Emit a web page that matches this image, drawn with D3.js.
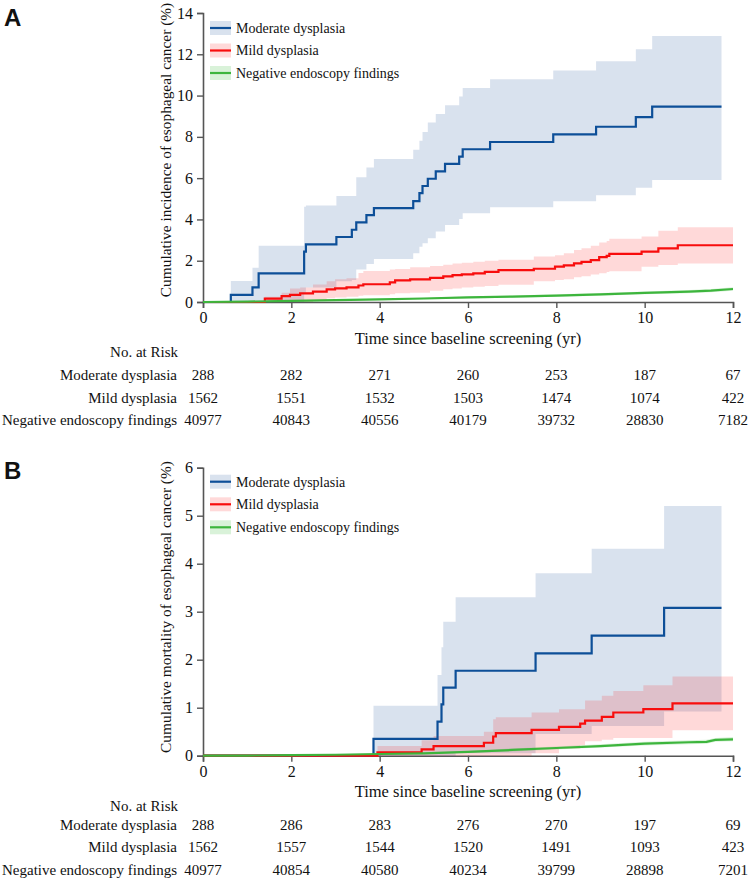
<!DOCTYPE html>
<html>
<head>
<meta charset="utf-8">
<script src="https://cdn.jsdelivr.net/npm/d3@7"></script>
<style>
  html, body { margin: 0; padding: 0; background: #fff; }
  svg { display: block; }
  text { font-family: "Liberation Serif", "Times New Roman", serif; fill: #111; }
</style>
</head>
<body>
<div id="chart"></div>
<script>
// ---------- DATA ----------
const seriesNames = ["Moderate dysplasia", "Mild dysplasia", "Negative endoscopy findings"];
const riskTimes = [0, 2, 4, 6, 8, 10, 12];
const xTicks = [0, 2, 4, 6, 8, 10, 12];
const yTicksA = [0, 2, 4, 6, 8, 10, 12, 14];
const yTicksB = [0, 1, 2, 3, 4, 5, 6];

// Panel A: cumulative incidence (%)
const modA_t   = [0, 0.63, 1.12, 1.26, 2.29, 2.33, 3.02, 3.37, 3.47, 3.70, 3.87, 4.76, 4.90, 4.97, 5.09, 5.27, 5.48, 5.80, 5.88, 6.50, 7.93, 8.90, 9.80, 10.17, 11.74];
const modA_est = [0, 0.35, 0.71, 1.39, 2.44, 2.79, 3.15, 3.50, 3.86, 4.21, 4.55, 4.89, 5.27, 5.62, 5.97, 6.33, 6.69, 7.04, 7.40, 7.75, 8.12, 8.49, 8.96, 9.46, 9.46];
const modA_lo  = [0, 0, 0, 0, 0.45, 0.70, 1.00, 1.07, 1.58, 1.84, 2.08, 2.36, 2.68, 2.85, 3.09, 3.41, 3.73, 4.02, 4.30, 4.59, 4.88, 5.17, 5.54, 5.91, 5.91];
const modA_hi  = [0, 1.02, 1.66, 2.73, 4.62, 4.67, 5.14, 5.14, 6.04, 6.51, 6.93, 7.38, 7.81, 8.24, 8.69, 9.11, 9.53, 9.95, 10.37, 10.79, 11.22, 11.66, 12.24, 12.89, 12.89];

const mildA_t   = [0, 0.63, 1.40, 1.78, 1.97, 2.20, 2.49, 2.80, 2.99, 3.25, 3.52, 3.63, 4.23, 4.35, 4.69, 5.14, 5.44, 5.65, 5.86, 6.12, 6.38, 6.69, 7.49, 7.97, 8.17, 8.40, 8.57, 8.78, 8.97, 9.14, 9.20, 9.93, 10.31, 10.75, 12.0];
const mildA_est = [0, 0, 0.16, 0.28, 0.35, 0.42, 0.50, 0.61, 0.66, 0.71, 0.80, 0.86, 0.95, 1.05, 1.10, 1.17, 1.24, 1.30, 1.34, 1.39, 1.46, 1.54, 1.61, 1.71, 1.77, 1.87, 1.94, 2.03, 2.17, 2.23, 2.33, 2.44, 2.60, 2.75, 2.75];
const mildA_lo  = [0, 0, 0, 0, 0, 0, 0.10, 0.18, 0.22, 0.26, 0.30, 0.33, 0.38, 0.42, 0.45, 0.55, 0.62, 0.66, 0.70, 0.74, 0.78, 0.84, 1.00, 1.06, 1.10, 1.20, 1.25, 1.33, 1.39, 1.45, 1.49, 1.71, 1.79, 1.87, 1.87];
const mildA_hi  = [0, 0.05, 0.26, 0.45, 0.66, 0.70, 0.85, 1.00, 1.10, 1.15, 1.40, 1.50, 1.58, 1.60, 1.68, 1.75, 1.80, 1.87, 1.90, 1.95, 2.00, 2.05, 2.20, 2.26, 2.36, 2.52, 2.60, 2.72, 2.88, 2.95, 3.07, 3.17, 3.45, 3.62, 3.62];

const negA_t   = [0, 1, 2, 3, 4, 5, 6, 7, 8, 9, 10, 11, 11.5, 12];
const negA_est = [0, 0.02, 0.05, 0.09, 0.13, 0.17, 0.22, 0.26, 0.31, 0.37, 0.44, 0.50, 0.55, 0.63];
const negA_lo  = [0, 0.01, 0.03, 0.06, 0.10, 0.13, 0.17, 0.21, 0.25, 0.30, 0.37, 0.42, 0.47, 0.55];
const negA_hi  = [0, 0.03, 0.07, 0.12, 0.16, 0.21, 0.27, 0.31, 0.37, 0.44, 0.51, 0.58, 0.63, 0.71];

// Panel B: cumulative mortality (%)
const modB_t   = [0, 3.86, 5.31, 5.40, 5.44, 5.72, 7.53, 8.80, 10.44, 11.74];
const modB_est = [0, 0.35, 0.71, 1.07, 1.42, 1.77, 2.13, 2.50, 3.08, 3.08];
const modB_lo  = [0, 0, 0, 0, 0, 0.05, 0.45, 0.62, 0.92, 0.92];
const modB_hi  = [0, 1.04, 1.68, 2.26, 2.79, 3.30, 3.80, 4.31, 5.20, 5.20];

const mildB_t   = [0, 3.95, 4.95, 5.22, 6.36, 6.57, 6.63, 7.44, 8.06, 8.54, 8.65, 9.03, 9.29, 9.97, 10.63, 12.0];
const mildB_est = [0, 0.07, 0.13, 0.20, 0.27, 0.40, 0.47, 0.54, 0.60, 0.67, 0.73, 0.81, 0.90, 0.97, 1.09, 1.09];
const mildB_lo  = [0, 0, 0, 0, 0, 0, 0, 0.05, 0.15, 0.22, 0.30, 0.33, 0.37, 0.37, 0.53, 0.53];
const mildB_hi  = [0, 0.20, 0.32, 0.41, 0.50, 0.76, 0.80, 0.90, 0.97, 0.97, 1.15, 1.25, 1.35, 1.47, 1.65, 1.65];

const negB_t   = [0, 1, 2, 3, 4, 5, 6, 7, 8, 9, 10, 11, 11.4, 11.6, 12];
const negB_est = [0, 0.003, 0.01, 0.02, 0.035, 0.05, 0.08, 0.12, 0.16, 0.20, 0.25, 0.28, 0.29, 0.33, 0.34];
const negB_lo  = [0, 0.002, 0.007, 0.013, 0.025, 0.035, 0.06, 0.09, 0.13, 0.17, 0.21, 0.24, 0.25, 0.29, 0.30];
const negB_hi  = [0, 0.005, 0.015, 0.03, 0.05, 0.07, 0.10, 0.15, 0.19, 0.24, 0.29, 0.32, 0.33, 0.37, 0.39];

// Numbers at risk
const riskA_mod  = [288, 282, 271, 260, 253, 187, 67];
const riskA_mild = [1562, 1551, 1532, 1503, 1474, 1074, 422];
const riskA_neg  = [40977, 40843, 40556, 40179, 39732, 28830, 7182];
const riskB_mod  = [288, 286, 283, 276, 270, 197, 69];
const riskB_mild = [1562, 1557, 1544, 1520, 1491, 1093, 423];
const riskB_neg  = [40977, 40854, 40580, 40234, 39799, 28898, 7201];

// ---------- STYLE ----------
const lineColors = ["#0d4f98", "#f80d0d", "#3db53d"];
const bandColors = ["rgb(0,60,140)", "rgb(255,0,0)", "rgb(0,170,0)"];
const bandOpacity = [0.15, 0.15, 0.15];
const axisColor = "#555";

const W = 748, H = 878;
const svg = d3.select("#chart").append("svg").attr("width", W).attr("height", H);

const x = d3.scaleLinear().domain([0, 12]).range([203, 733]);

function zip(t, est, lo, hi) {
  return t.map((d, i) => ({ t: d, est: est[i], lo: lo[i], hi: hi[i] }));
}

function panel(cfg) {
  const y = d3.scaleLinear().domain([0, cfg.ymax]).range([cfg.y0, cfg.y1]);
  const g = svg.append("g");

  // axes
  const ax = g.append("g").attr("transform", `translate(0,${cfg.y0})`)
    .call(d3.axisBottom(x).tickValues(xTicks).tickSize(6).tickPadding(4).tickFormat(d3.format("d")));
  const ay = g.append("g").attr("transform", `translate(${x(0)},0)`)
    .call(d3.axisLeft(y).tickValues(cfg.yTicks).tickSize(6).tickPadding(4).tickFormat(d3.format("d")));
  [ax, ay].forEach(a => {
    a.select(".domain").attr("stroke", axisColor).attr("stroke-width", 1.6);
    a.selectAll(".tick line").attr("stroke", axisColor).attr("stroke-width", 1.4);
    a.selectAll(".tick text").attr("font-family", "Liberation Serif, Times New Roman, serif")
      .attr("font-size", 16).attr("fill", "#111");
  });

  const area = d3.area().curve(d3.curveStepAfter)
    .x(d => x(d.t)).y0(d => y(d.lo)).y1(d => y(d.hi));
  const line = d3.line().curve(d3.curveStepAfter)
    .x(d => x(d.t)).y(d => y(d.est));
  const smooth = d3.line().curve(d3.curveLinear)
    .x(d => x(d.t)).y(d => y(d.est));
  const smoothArea = d3.area().curve(d3.curveLinear)
    .x(d => x(d.t)).y0(d => y(d.lo)).y1(d => y(d.hi));

  cfg.series.forEach((s, i) => {
    const gen = i === 2 ? smoothArea : area;
    g.append("path").datum(s.filter(d => d.t >= cfg.bandStart[i]))
      .attr("d", gen).attr("fill", bandColors[i]).attr("fill-opacity", bandOpacity[i]);
  });
  cfg.series.forEach((s, i) => {
    const gen = i === 2 ? smooth : line;
    g.append("path").datum(s).attr("d", gen).attr("fill", "none")
      .attr("stroke", lineColors[i]).attr("stroke-width", 2.2);
  });

  // legend
  const lg = g.append("g");
  seriesNames.forEach((n, i) => {
    const cy = cfg.y1 + cfg.legendOffsets[i];
    lg.append("rect").attr("x", 210).attr("y", cy - 7).attr("width", 21).attr("height", 14)
      .attr("fill", bandColors[i]).attr("fill-opacity", bandOpacity[i]);
    lg.append("line").attr("x1", 210).attr("x2", 231).attr("y1", cy).attr("y2", cy)
      .attr("stroke", lineColors[i]).attr("stroke-width", 2.2);
    lg.append("text").attr("x", 236).attr("y", cy).attr("dy", "0.35em")
      .attr("font-size", 14).text(n);
  });

  // axis titles
  g.append("text").attr("x", x(6)).attr("y", cfg.y0 + 36).attr("dy", "0.35em")
    .attr("text-anchor", "middle").attr("font-size", 16.5)
    .text("Time since baseline screening (yr)");
  g.append("text").attr("transform", `translate(166,${cfg.ytitleY}) rotate(-90)`)
    .attr("dy", "0.35em").attr("text-anchor", "middle").attr("font-size", 15.4)
    .text(cfg.ytitle);

  // panel letter
  svg.append("text").attr("x", 4).attr("y", cfg.letterY)
    .style("font-family", "Liberation Sans, Arial, sans-serif")
    .attr("font-weight", "bold").attr("font-size", 24).text(cfg.letter);

  // risk table
  const tb = g.append("g");
  tb.append("text").attr("x", 178).attr("y", cfg.y0 + 50).attr("dy", "0.35em")
    .attr("text-anchor", "end").attr("font-size", 15).text("No. at Risk");
  cfg.risk.forEach((row, r) => {
    const ry = cfg.y0 + cfg.rowStart + r * cfg.rowGap;
    tb.append("text").attr("x", 177).attr("y", ry).attr("dy", "0.35em")
      .attr("text-anchor", "end").attr("font-size", 15).text(seriesNames[r]);
    row.forEach((v, k) => {
      tb.append("text").attr("x", x(riskTimes[k])).attr("y", ry).attr("dy", "0.35em")
        .attr("text-anchor", "middle").attr("font-size", 15).text(v);
    });
  });
}

panel({
  ymax: 14, y0: 302, y1: 13, yTicks: yTicksA,
  series: [zip(modA_t, modA_est, modA_lo, modA_hi), zip(mildA_t, mildA_est, mildA_lo, mildA_hi), zip(negA_t, negA_est, negA_lo, negA_hi)],
  bandStart: [0.63, 0.63, 0],
  legendOffsets: [15, 37.5, 60],
  ytitle: "Cumulative incidence of esophageal cancer (%)", ytitleY: 150,
  letter: "A", letterY: 25.7,
  risk: [riskA_mod, riskA_mild, riskA_neg], rowStart: 73, rowGap: 22.5
});

panel({
  ymax: 6, y0: 755.7, y1: 467.7, yTicks: yTicksB,
  series: [zip(modB_t, modB_est, modB_lo, modB_hi), zip(mildB_t, mildB_est, mildB_lo, mildB_hi), zip(negB_t, negB_est, negB_lo, negB_hi)],
  bandStart: [3.86, 3.95, 0],
  legendOffsets: [14, 36.6, 59.6],
  ytitle: "Cumulative mortality of esophageal cancer (%)", ytitleY: 607,
  letter: "B", letterY: 479.4,
  risk: [riskB_mod, riskB_mild, riskB_neg], rowStart: 69, rowGap: 22.3
});
</script>
</body>
</html>
